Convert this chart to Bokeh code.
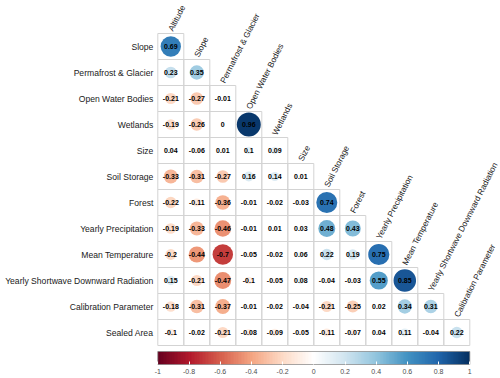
import numpy as np
from bokeh.plotting import figure
from bokeh.models import (ColumnDataSource, LinearColorMapper, ColorBar, FixedTicker,
                          CustomJSTickFormatter, Range1d)
from bokeh.transform import transform
from bokeh.core.properties import value
from bokeh.embed import file_html
from bokeh.resources import INLINE

# ---------------- data ----------------
variables = ["Altitude", "Slope", "Permafrost & Glacier", "Open Water Bodies", "Wetlands",
             "Size", "Soil Storage", "Forest", "Yearly Precipitation", "Mean Temperature",
             "Yearly Shortwave Downward Radiation", "Calibration Parameter", "Sealed Area"]
row_vars = variables[1:]
col_vars = variables[:-1]

corr_slope = [0.69]
corr_permafrost = [0.23, 0.35]
corr_openwater = [-0.21, -0.27, -0.01]
corr_wetlands = [-0.19, -0.26, 0, 0.96]
corr_size = [0.04, -0.06, 0.01, 0.1, 0.09]
corr_soil = [-0.33, -0.31, -0.27, 0.16, 0.14, 0.01]
corr_forest = [-0.22, -0.11, -0.36, -0.01, -0.02, -0.03, 0.74]
corr_precip = [-0.19, -0.33, -0.46, -0.01, 0.01, 0.03, 0.48, 0.43]
corr_temp = [-0.2, -0.44, -0.7, -0.05, -0.02, 0.06, 0.22, 0.19, 0.75]
corr_rad = [0.15, -0.21, -0.47, -0.1, -0.05, 0.08, -0.04, -0.03, 0.55, 0.85]
corr_calib = [-0.18, -0.31, -0.37, -0.01, -0.02, -0.04, -0.21, -0.25, 0.02, 0.34, 0.31]
corr_sealed = [-0.1, -0.02, -0.21, -0.08, -0.09, -0.05, -0.11, -0.07, 0.04, 0.11, -0.04, 0.22]
corr_rows = [corr_slope, corr_permafrost, corr_openwater, corr_wetlands, corr_size, corr_soil,
             corr_forest, corr_precip, corr_temp, corr_rad, corr_calib, corr_sealed]

colorbar_ticks = [-1, -0.8, -0.6, -0.4, -0.2, 0, 0.2, 0.4, 0.6, 0.8, 1]

# ---------------- colours ----------------
anchors = ["#67001F", "#B2182B", "#D6604D", "#F4A582", "#FDDBC7", "#FFFFFF",
           "#D1E5F0", "#92C5DE", "#4393C3", "#2166AC", "#053061"]
anc = np.array([[int(c[k:k + 2], 16) for k in (1, 3, 5)] for c in anchors], dtype=float)
pos = np.linspace(0, 1, len(anchors))
t = np.linspace(0, 1, 200)
palette = ["#%02x%02x%02x" % tuple(int(round(np.interp(tt, pos, anc[:, ch]))) for ch in range(3))
           for tt in t]
mapper = LinearColorMapper(palette=palette, low=-1, high=1)

# ---------------- sources ----------------
xs, ys, vals, rads, labels = [], [], [], [], []
for i, row in enumerate(corr_rows):
    for j, v in enumerate(row):
        xs.append(j)
        ys.append(-i)
        vals.append(v)
        rads.append(0.47 * np.sqrt(abs(v)))
        labels.append(f"{v:g}")
src = ColumnDataSource(dict(x=xs, y=ys, v=vals, r=rads, lab=labels))

W, H = 500, 378
px = 26.0
x0 = 170.3 / px
ytop = 46.0 / px
p = figure(width=W, height=H, output_backend="svg", toolbar_location=None,
           x_axis_type=None, y_axis_type=None, min_border=0,
           x_range=Range1d(-x0, -x0 + W / px), y_range=Range1d(ytop - H / px, ytop))
p.outline_line_color = None
p.grid.visible = False

# grid cells
p.rect(x="x", y="y", width=1, height=1, source=src, fill_color=None,
       line_color="#d3d3d3", line_width=1)
# circles
p.circle(x="x", y="y", radius="r", source=src,
         fill_color=transform("v", mapper), line_color=None)
# coefficients
p.text(x="x", y="y", text="lab", source=src, text_align="center", text_baseline="middle",
       text_font=value("Liberation Sans"), text_font_style="bold", text_font_size="7px",
       text_color="black")

# row labels
p.text(x=[-0.5 - 0.17] * len(row_vars), y=[-i for i in range(len(row_vars))], text=row_vars,
       text_align="right", text_baseline="middle", text_font=value("Liberation Sans"),
       text_font_size="8.6px", text_color="#1a1a1a")
# column labels
p.text(x=[j - 0.02 for j in range(len(col_vars))],
       y=[-j + 0.5 + 0.12 for j in range(len(col_vars))], text=col_vars,
       angle=63, angle_units="deg",
       text_align="left", text_baseline="alphabetic", text_font=value("Liberation Sans"),
       text_font_size="8.3px", text_color="#1a1a1a")

cb = ColorBar(color_mapper=mapper, orientation="horizontal", width=312, height=13,
              location=(157.3, 2), padding=0, label_standoff=4,
              ticker=FixedTicker(ticks=colorbar_ticks),
              formatter=CustomJSTickFormatter(code="return String(Math.round(tick*10)/10)"),
              major_tick_line_color="white", major_tick_in=3, major_tick_out=0,
              minor_tick_line_color=None, bar_line_color="#7f7f7f", bar_line_width=0.7,
              major_label_text_font="Liberation Sans",
              major_label_text_font_size="7px", major_label_text_color="#4d4d4d",
              background_fill_color=None, border_line_color=None)
p.add_layout(cb, "center")

open("out.html", "w").write(file_html(p, INLINE))
